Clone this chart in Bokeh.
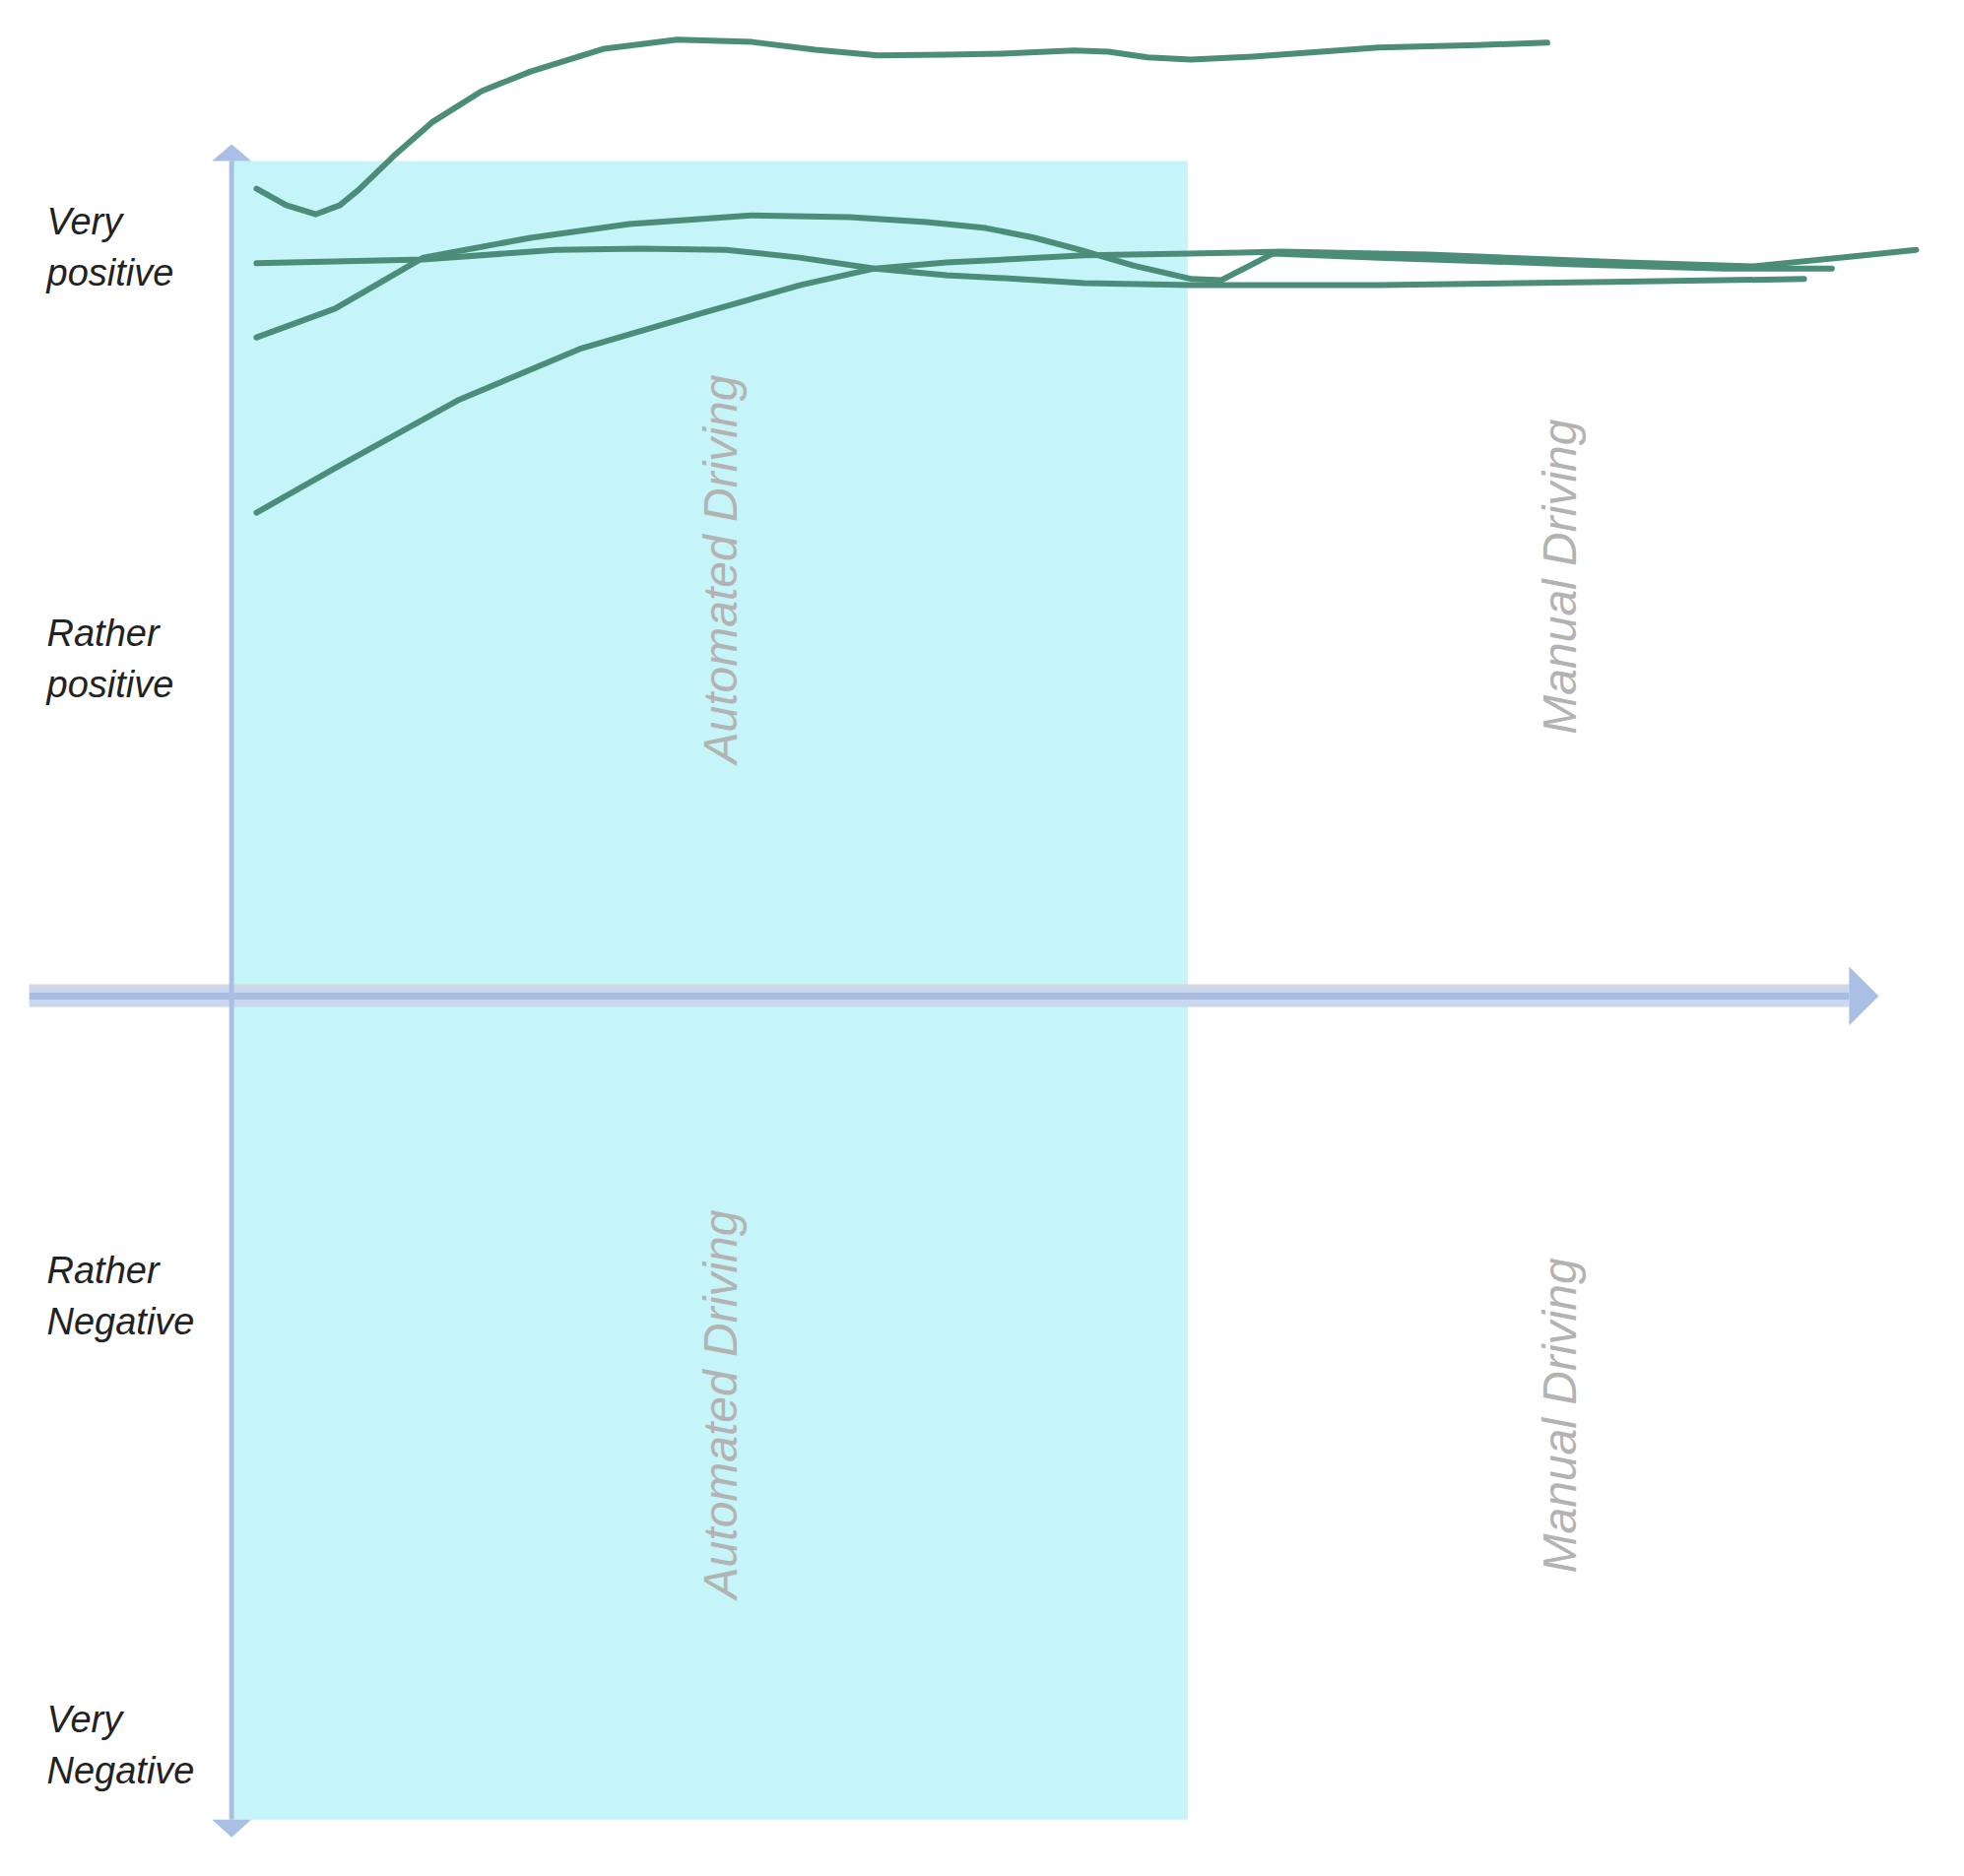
import math
from bokeh.plotting import figure
from bokeh.models import Range1d
from bokeh.embed import file_html
from bokeh.resources import INLINE
from bokeh.core.properties import value

# ---------------- data ----------------
# rating scale labels (y: +2 very positive ... -2 very negative)
rating_labels = ["Very\npositive", "Rather\npositive", "Rather\nNegative", "Very\nNegative"]
rating_values = [2.0, 0.90, -0.80, -2.0]

# phases along the time axis
phase_names = ["Automated Driving", "Manual Driving"]
phase_start = [0.04, 10.0]
phase_end = [10.0, 18.0]

# four respondents' rating curves (time, rating)
s1_t = [0.28, 0.59, 0.90, 1.15, 1.35, 1.71, 2.12, 2.63, 3.14, 3.91, 4.67, 5.45, 6.11, 6.76,
        7.48, 8.06, 8.81, 9.17, 9.58, 10.03, 10.68, 11.99, 13.03, 13.75]
s1_r = [2.156, 2.112, 2.088, 2.112, 2.154, 2.243, 2.335, 2.417, 2.469, 2.530, 2.554, 2.548,
        2.527, 2.512, 2.514, 2.517, 2.525, 2.522, 2.507, 2.501, 2.509, 2.533, 2.540, 2.546]

s2_t = [0.28, 2.02, 3.40, 4.29, 5.18, 5.95, 6.73, 7.48, 8.09, 8.92, 10.04, 12.00, 14.40, 16.43]
s2_r = [1.957, 1.967, 1.993, 1.996, 1.993, 1.972, 1.943, 1.925, 1.917, 1.904, 1.899, 1.899,
        1.907, 1.915]

s3_t = [0.28, 1.10, 2.02, 3.14, 4.17, 5.44, 6.47, 7.27, 7.89, 8.40, 8.87, 9.43, 10.04, 10.35,
        10.89, 12.00, 14.05, 15.60, 16.72]
s3_r = [1.759, 1.836, 1.972, 2.025, 2.062, 2.085, 2.080, 2.067, 2.051, 2.025, 1.993, 1.951,
        1.915, 1.912, 1.983, 1.972, 1.954, 1.943, 1.943]

s4_t = [0.28, 1.10, 2.38, 3.65, 4.94, 5.96, 6.73, 7.48, 8.09, 8.92, 10.01, 10.97, 12.51,
        14.57, 15.90, 16.93, 17.60]
s4_r = [1.291, 1.410, 1.591, 1.728, 1.825, 1.899, 1.943, 1.959, 1.967, 1.978, 1.983, 1.988,
        1.980, 1.959, 1.949, 1.975, 1.993]

series_t = [s1_t, s2_t, s3_t, s4_t]
series_r = [s1_r, s2_r, s3_r, s4_r]

# ---------------- layout ----------------
W, H = 1978, 1889
PX = 20.332 / W      # data units per pixel (x)
PY = 4.9677 / H      # data units per pixel (y)
X0 = -2.310 - 8 * PX
X1 = 18.022 - 8 * PX
Y0 = -2.330 + 8 * PY
Y1 = 2.6377 + 8 * PY

AX_COLOR = "#a9c0e4"
LINE_COLOR = "#4b8d78"
CYAN = "#c5f4f9"
PHASE_TEXT = "#b3b3b3"

p = figure(width=W, height=H, x_range=Range1d(X0, X1), y_range=Range1d(Y0, Y1),
           x_axis_type=None, y_axis_type=None, toolbar_location=None,
           output_backend="svg", min_border=0, outline_line_color=None,
           background_fill_color="white", border_fill_color="white")
p.grid.visible = False

# automated phase background
y_top = 2.230
y_bot = -2.199
p.quad(left=[phase_start[0]], right=[phase_end[0]], top=[y_top], bottom=[y_bot],
       fill_color=CYAN, line_color=None)

# horizontal (time) axis: layered band + arrow head
hx0 = -2.092
hx1 = 16.90
p.line([hx0, hx1], [0, 0], line_width=22, line_color="#c9d8ee")
p.line([hx0, hx1], [10.5 * PY, 10.5 * PY], line_width=3, line_color="#d3d9e0")
p.line([hx0, hx1], [0, 0], line_width=7, line_color="#aabde0")
p.patch([hx1, hx1 + 30 * PX, hx1], [30 * PY, 0, -30 * PY], fill_color=AX_COLOR, line_color=None)

# vertical (rating) axis with arrow heads at both ends
vx = 0.02
p.line([vx, vx], [y_bot, y_top], line_width=5, line_color=AX_COLOR)
p.patch([vx - 20 * PX, vx, vx + 20 * PX], [y_top, y_top + 17 * PY, y_top],
        fill_color=AX_COLOR, line_color=None)
p.patch([vx - 20 * PX, vx, vx + 20 * PX], [y_bot, y_bot - 18 * PY, y_bot],
        fill_color=AX_COLOR, line_color=None)

# phase labels (rotated)
lab_x = [5.12, 5.12, 13.88, 13.88]
lab_y = [1.14, -1.09, 1.12, -1.12]
lab_t = [phase_names[0], phase_names[0], phase_names[1], phase_names[1]]
p.text(x=lab_x, y=lab_y, text=lab_t, angle=math.pi / 2, text_align="center",
       text_baseline="middle", text_font=value("Liberation Sans"),
       text_font_style="italic", text_font_size="48px", text_color=PHASE_TEXT)

# respondent curves
for t, r in zip(series_t, series_r):
    p.line(t, r, line_width=6, line_color=LINE_COLOR, line_join="round", line_cap="round")

# rating labels
p.text(x=[-1.909] * len(rating_values), y=rating_values, text=rating_labels,
       text_align="left", text_baseline="middle", text_font=value("Liberation Sans"),
       text_font_style="italic", text_font_size="38px", text_color="#222222",
       text_line_height=1.24)

open("out.html", "w").write(file_html(p, INLINE))
